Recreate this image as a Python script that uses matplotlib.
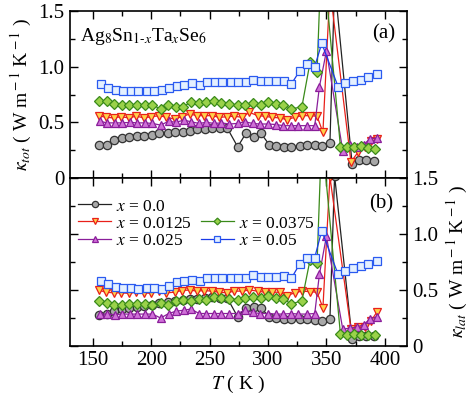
import matplotlib
matplotlib.use("Agg")
import matplotlib.pyplot as plt
from matplotlib.lines import Line2D
from matplotlib.ticker import MultipleLocator, FixedLocator, FixedFormatter

plt.rcParams['font.family'] = ['Liberation Serif', 'DejaVu Serif']
plt.rcParams['mathtext.fontset'] = 'stix'

# --- data ---
# x = 0.0
T_0 = [155, 162, 168, 175, 181, 188, 194, 201, 207, 214, 220, 227, 233, 239, 246, 252, 259, 265,
       274, 281, 288, 294, 301, 307, 314, 320, 327, 333, 340, 346, 353, 357, 372, 378, 384, 391]
tot_0 = [0.295, 0.30, 0.34, 0.36, 0.37, 0.38, 0.38, 0.39, 0.40, 0.40, 0.41, 0.41, 0.42, 0.44, 0.44, 0.45, 0.45, 0.45,
         0.28, 0.40, 0.37, 0.40, 0.30, 0.285, 0.28, 0.28, 0.285, 0.30, 0.30, 0.285, 0.31, 1.75, 0.13, 0.165, 0.16, 0.155]
lat_0 = [0.28, 0.29, 0.31, 0.33, 0.34, 0.35, 0.36, 0.37, 0.385, 0.39, 0.40, 0.41, 0.42, 0.42, 0.43, 0.44, 0.43, 0.43,
         0.26, 0.34, 0.35, 0.34, 0.26, 0.25, 0.24, 0.24, 0.24, 0.24, 0.23, 0.22, 0.24, 1.52, 0.065, 0.09, 0.09, 0.085]

# x = 0.0125
T_1 = [155, 161, 168, 174, 181, 187, 194, 200, 207, 213, 220, 226, 233, 239, 245, 252, 258, 265, 271, 278,
       284, 291, 297, 303, 310, 316, 323, 329, 336, 342, 347, 353, 371, 377, 383, 388, 393]
tot_1 = [0.56, 0.545, 0.54, 0.55, 0.54, 0.555, 0.54, 0.55, 0.56, 0.545, 0.53, 0.55, 0.575, 0.56, 0.56, 0.56, 0.545,
         0.55, 0.555, 0.545, 0.59, 0.56, 0.555, 0.545, 0.54, 0.525, 0.545, 0.56, 0.56, 0.555, 0.41, 1.7,
         0.145, 0.23, 0.28, 0.33, 0.35]
lat_1 = [0.50, 0.48, 0.475, 0.475, 0.47, 0.48, 0.475, 0.47, 0.49, 0.475, 0.48, 0.495, 0.50, 0.49, 0.495, 0.49, 0.48,
         0.475, 0.49, 0.49, 0.50, 0.49, 0.48, 0.48, 0.48, 0.45, 0.475, 0.49, 0.485, 0.48, 0.34, 1.51,
         0.15, 0.17, 0.17, 0.22, 0.30]

# x = 0.025
T_2 = [156, 162, 169, 175, 182, 188, 195, 201, 208, 215, 221, 228, 234, 241, 247, 254, 260, 267, 274, 280,
       287, 293, 300, 307, 313, 320, 326, 333, 340, 344, 350, 364, 370, 376, 382, 387, 393]
tot_2 = [0.51, 0.495, 0.495, 0.495, 0.50, 0.495, 0.495, 0.49, 0.475, 0.51, 0.50, 0.52, 0.505, 0.49, 0.50, 0.49,
         0.495, 0.485, 0.49, 0.505, 0.49, 0.485, 0.485, 0.48, 0.47, 0.47, 0.47, 0.47, 0.47, 0.82, 1.14,
         0.245, 0.30, 0.28, 0.30, 0.35, 0.36]
lat_2 = [0.285, 0.285, 0.28, 0.285, 0.285, 0.285, 0.285, 0.285, 0.25, 0.29, 0.31, 0.32, 0.33, 0.29, 0.29, 0.29,
         0.29, 0.29, 0.29, 0.32, 0.30, 0.29, 0.29, 0.285, 0.285, 0.29, 0.285, 0.285, 0.29, 0.64, 0.98,
         0.15, 0.16, 0.17, 0.19, 0.24, 0.26]

# x = 0.0375
T_3 = [155, 162, 168, 175, 181, 188, 195, 201, 208, 214, 221, 227, 234, 241, 247, 254, 260, 267, 274, 280,
       287, 294, 300, 307, 313, 320, 329, 336, 342, 346, 362, 368, 374, 380, 386, 392]
tot_3 = [0.69, 0.69, 0.665, 0.655, 0.655, 0.655, 0.655, 0.655, 0.62, 0.655, 0.64, 0.64, 0.68, 0.675, 0.68, 0.69,
         0.675, 0.665, 0.655, 0.655, 0.675, 0.66, 0.68, 0.665, 0.66, 0.62, 0.64, 1.04, 0.955, 2.1,
         0.28, 0.275, 0.28, 0.29, 0.27, 0.26]
lat_3 = [0.40, 0.385, 0.37, 0.37, 0.375, 0.375, 0.375, 0.37, 0.385, 0.37, 0.40, 0.415, 0.40, 0.42, 0.415, 0.44,
         0.425, 0.42, 0.415, 0.43, 0.44, 0.43, 0.445, 0.43, 0.42, 0.375, 0.405, 0.77, 0.74, 1.9,
         0.105, 0.10, 0.11, 0.10, 0.095, 0.095]

# x = 0.05
T_4 = [157, 163, 170, 176, 183, 189, 196, 202, 209, 215, 222, 228, 235, 242, 248, 255, 261, 268, 274, 281,
       287, 294, 300, 307, 314, 320, 327, 333, 340, 346, 360, 366, 373, 380, 386, 393]
tot_4 = [0.845, 0.81, 0.79, 0.785, 0.78, 0.785, 0.785, 0.78, 0.79, 0.81, 0.83, 0.835, 0.85, 0.835, 0.86, 0.865,
         0.865, 0.86, 0.86, 0.86, 0.88, 0.87, 0.87, 0.87, 0.87, 0.845, 0.96, 1.02, 1.0, 1.21,
         0.82, 0.85, 0.87, 0.88, 0.905, 0.935]
lat_4 = [0.58, 0.55, 0.53, 0.52, 0.515, 0.51, 0.52, 0.52, 0.51, 0.535, 0.57, 0.58, 0.59, 0.58, 0.605, 0.605,
         0.605, 0.605, 0.605, 0.61, 0.63, 0.615, 0.62, 0.62, 0.625, 0.605, 0.73, 0.79, 0.79, 1.03,
         0.64, 0.67, 0.70, 0.71, 0.73, 0.76]

labels = ["0.0", "0.0125", "0.025", "0.0375", "0.05"]
y_ticks = [0, 0.5, 1.0, 1.5]
y_ticklabels = ["0", "0.5", "1.0", "1.5"]
x_ticks = [150, 200, 250, 300, 350, 400]

series = [
    (T_0, tot_0, lat_0, dict(color="#222222", marker="o", mfc="#a8a8a8", mec="#333333")),
    (T_1, tot_1, lat_1, dict(color="#e8201a", marker="v", mfc="#ffd24a", mec="#e8201a")),
    (T_2, tot_2, lat_2, dict(color="#8a1e9a", marker="^", mfc="#d070d8", mec="#8a1e9a")),
    (T_3, tot_3, lat_3, dict(color="#3a8a1a", marker="D", mfc="#9ad24a", mec="#3a8a1a")),
    (T_4, tot_4, lat_4, dict(color="#1a3ae8", marker="s", mfc="#e4f0ff", mec="#2a5af0")),
]

fig = plt.figure(figsize=(4.74, 3.96), dpi=100)
W, H = 474.0, 396.0
left, right = 69.5 / W, 407.0 / W
ax1 = fig.add_axes([left, 1 - 178 / H, right - left, 167 / H])
ax2 = fig.add_axes([left, 1 - 346 / H, right - left, 168 / H])

handles = []
for T, tot, lat, st in series:
    ms = 4.6 if st["marker"] == "D" else 6
    ax1.plot(T, tot, lw=0.9, ms=ms, mew=0.9, **st)
    h, = ax2.plot(T, lat, lw=0.9, ms=ms, mew=0.9, **st)
    handles.append(h)

for ax in (ax1, ax2):
    ax.set_xlim(130, 419)
    ax.set_ylim(0, 1.5)
    ax.xaxis.set_major_locator(FixedLocator(x_ticks))
    ax.xaxis.set_minor_locator(MultipleLocator(25))
    ax.yaxis.set_major_locator(FixedLocator(y_ticks))
    ax.yaxis.set_major_formatter(FixedFormatter(y_ticklabels))
    ax.yaxis.set_minor_locator(MultipleLocator(0.25))
    ax.tick_params(which="both", direction="in", top=True, right=True, labelsize=15, width=1.0)
    ax.tick_params(which="major", length=6)
    ax.tick_params(which="minor", length=3.5)
    for s in ax.spines.values():
        s.set_linewidth(1.2)

ax1.tick_params(labelbottom=False)
ax2.tick_params(labelleft=False, labelright=True)

ax1.set_ylabel(r"$\kappa_{tot}$ ( W m$^{\rm -1}$ K$^{\rm -1}$ )", fontsize=14, labelpad=3)
ax2.yaxis.set_label_position("right")
ax2.set_ylabel(r"$\kappa_{lat}$ ( W m$^{\rm -1}$ K$^{\rm -1}$ )", fontsize=14, labelpad=5)
ax2.set_xlabel(r"$T$ ( K )", fontsize=14, labelpad=3)

ax1.text(0.031, 0.845, r"Ag$_8$Sn$_{1\text{-}x}$Ta$_x$Se$_6$", transform=ax1.transAxes,
         fontsize=14, ha="left", va="center")
ax1.text(0.965, 0.865, "(a)", transform=ax1.transAxes, fontsize=15, ha="right", va="center")
ax2.text(0.96, 0.845, "(b)", transform=ax2.transAxes, fontsize=15, ha="right", va="center")

blank = Line2D([], [], color="none")
leg_h = [handles[0], handles[1], handles[2], blank, handles[3], handles[4]]
leg_l = ["$x$ = " + labels[0], "$x$ = " + labels[1], "$x$ = " + labels[2], "",
         "$x$ = " + labels[3], "$x$ = " + labels[4]]
ax2.legend(leg_h, leg_l, ncol=2, loc="upper left", bbox_to_anchor=(0.005, 0.92), frameon=False,
           fontsize=12.5, handlelength=1.9, handletextpad=0.3, columnspacing=0.5,
           labelspacing=0.05, borderpad=0.2, borderaxespad=0.2, markerscale=0.75)

fig.savefig("out.png", dpi=100)
